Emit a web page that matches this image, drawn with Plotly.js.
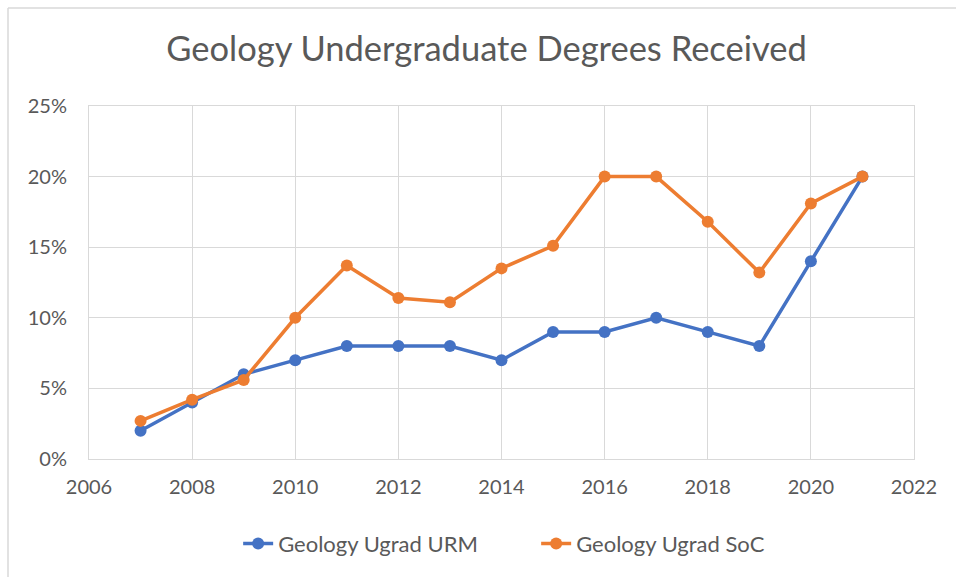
<!DOCTYPE html>
<html>
<head>
<meta charset="utf-8">
<script src="https://cdn.plot.ly/plotly-3.0.1.min.js"></script>
<style>body{margin:0;padding:0;background:#fff;}#chart{width:956px;height:577px;}</style>
</head>
<body>
<div id="chart"></div>
<script>
const years = [2007, 2008, 2009, 2010, 2011, 2012, 2013, 2014, 2015, 2016, 2017, 2018, 2019, 2020, 2021];
const urm = [2, 4, 6, 7, 8, 8, 8, 7, 9, 9, 10, 9, 8, 14, 20];
const soc = [2.7, 4.2, 5.6, 10, 13.7, 11.4, 11.1, 13.5, 15.1, 20, 20, 16.8, 13.2, 18.1, 20];
const seriesNames = ['Geology Ugrad URM', 'Geology Ugrad SoC'];
const xTicks = [2006, 2008, 2010, 2012, 2014, 2016, 2018, 2020, 2022];
const yTicks = [0, 5, 10, 15, 20, 25];

const font = "Lato, 'Open Sans', 'Liberation Sans', sans-serif";
const traces = [
  {x: years, y: urm, name: seriesNames[0], type: 'scatter', mode: 'lines+markers',
   line: {color: '#4472C4', width: 3.5}, marker: {color: '#4472C4', size: 12}},
  {x: years, y: soc, name: seriesNames[1], type: 'scatter', mode: 'lines+markers',
   line: {color: '#ED7D31', width: 3.5}, marker: {color: '#ED7D31', size: 12}}
];
const layout = {
  width: 956, height: 577,
  margin: {l: 89, r: 42, t: 106, b: 118},
  paper_bgcolor: '#fff', plot_bgcolor: '#fff',
  font: {family: font, color: '#595959', size: 20},
  title: {text: 'Geology Undergraduate Degrees Received', x: 0.509, xanchor: 'center', y: 0.915, yanchor: 'middle',
          font: {size: 34.5, color: '#595959', family: font}},
  xaxis: {range: [2006, 2022], tickvals: xTicks, ticktext: xTicks.map(String), showgrid: true,
          gridcolor: '#d9d9d9', gridwidth: 1, zeroline: false, showline: true, linecolor: '#d9d9d9', linewidth: 1,
          mirror: true, ticks: '', ticklabelstandoff: 10, tickfont: {size: 20, color: '#595959'}, fixedrange: true},
  yaxis: {range: [0, 25], tickvals: yTicks, ticktext: yTicks.map(v => v + '%'), showgrid: true,
          gridcolor: '#d9d9d9', gridwidth: 1, zeroline: false, showline: true, linecolor: '#d9d9d9', linewidth: 1,
          mirror: true, ticks: '', ticklabelstandoff: 17, tickfont: {size: 20, color: '#595959'}, fixedrange: true},
  showlegend: true,
  legend: {orientation: 'h', x: 0.542, xanchor: 'center', y: -0.24, yanchor: 'middle',
           font: {size: 22, color: '#595959'}, traceorder: 'normal',
           entrywidth: 253, entrywidthmode: 'pixels'},
  shapes: [
    {type: 'line', xref: 'paper', yref: 'paper', x0: (8 - 89) / 825, x1: 1.06, y0: (459 - 8) / 353, y1: (459 - 8) / 353,
     line: {color: '#d9d9d9', width: 1.5}},
    {type: 'line', xref: 'paper', yref: 'paper', x0: (8 - 89) / 825, x1: (8 - 89) / 825, y0: -0.34, y1: (459 - 8) / 353,
     line: {color: '#d9d9d9', width: 1.5}}
  ]
};
Plotly.newPlot('chart', traces, layout, {displayModeBar: false, staticPlot: true});
</script>
</body>
</html>
